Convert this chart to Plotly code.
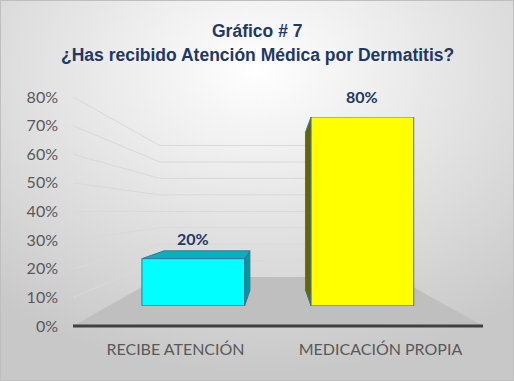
import base64
import plotly.graph_objects as go

# ---------------- data ----------------
categories = ["RECIBE ATENCIÓN", "MEDICACIÓN PROPIA"]
values = [20, 80]
value_labels = ["20%", "80%"]
tick_values = [0, 10, 20, 30, 40, 50, 60, 70, 80]
tick_labels = [f"{v}%" for v in tick_values]

# ---------------- style ----------------
bar_colors = ["#00FFFF", "#FFFF00"]
side_colors = ["#0097A0", "#666600"]
top_colors = ["#00B4BC", "#B3B300"]
outline = "#41719C"
navy = "#1F3864"
gray_text = "#595959"

W, H = 514, 381
VPX, VPY = 277.0, 211.0          # vanishing point (pixels)
FX0, FX1, FY0 = 73.0, 483.0, 326.0  # front plane extent (pixels)
FY_TOP = 97.0
VMAX = 80
K = (FY0 - FY_TOP) / VMAX
S_WALL = 0.574
S_BAR_FRONT = 0.825
S_BAR_BACK = 0.69
BAR_WIDTH = 0.607

n = len(categories)
unit_px = (FX1 - FX0) / n


def X_of(i):
    return FX0 + (i + 0.5) * unit_px


def proj(X, v, s):
    return VPX + s * (X - VPX), VPY + s * (FY0 - K * v - VPY)


fig = go.Figure()

# floor
floor_pts = [proj(FX0, 0, 1), proj(FX1, 0, 1), proj(FX1, 0, S_WALL), proj(FX0, 0, S_WALL)]
fig.add_trace(go.Scatter(
    x=[p[0] for p in floor_pts] + [floor_pts[0][0]],
    y=[p[1] for p in floor_pts] + [floor_pts[0][1]],
    fill="toself", fillcolor="#BFBFBF", line=dict(width=0), mode="lines",
    hoverinfo="skip", showlegend=False, xaxis="x", yaxis="y"))

# gridlines (left wall + back wall)
gx, gy = [], []
for v in tick_values:
    if v == 0:
        continue
    pts = [proj(FX0, v, 1), proj(FX0, v, S_WALL), proj(FX1, v, S_WALL)]
    gx += [p[0] for p in pts] + [None]
    gy += [p[1] for p in pts] + [None]
fig.add_trace(go.Scatter(x=gx, y=gy, mode="lines", line=dict(color="#D9D9D9", width=1),
                         hoverinfo="skip", showlegend=False, xaxis="x", yaxis="y"))

# front floor edge (axis line)
a, b = proj(FX0, 0, 1), proj(FX1, 0, 1)
fig.add_trace(go.Scatter(x=[a[0], b[0]], y=[a[1], b[1]], mode="lines",
                         line=dict(color="#404040", width=3),
                         hoverinfo="skip", showlegend=False, xaxis="x", yaxis="y"))

# 3D side / top faces of bars
half = BAR_WIDTH * unit_px / 2
for i, v in enumerate(values):
    Xl, Xr = X_of(i) - half, X_of(i) + half
    faces = []
    if Xr < VPX:
        faces.append(([proj(Xr, 0, S_BAR_FRONT), proj(Xr, v, S_BAR_FRONT),
                       proj(Xr, v, S_BAR_BACK), proj(Xr, 0, S_BAR_BACK)], side_colors[i]))
    if Xl > VPX:
        faces.append(([proj(Xl, 0, S_BAR_FRONT), proj(Xl, v, S_BAR_FRONT),
                       proj(Xl, v, S_BAR_BACK), proj(Xl, 0, S_BAR_BACK)], side_colors[i]))
    if FY0 - K * v > VPY:
        faces.append(([proj(Xl, v, S_BAR_FRONT), proj(Xr, v, S_BAR_FRONT),
                       proj(Xr, v, S_BAR_BACK), proj(Xl, v, S_BAR_BACK)], top_colors[i]))
    for pts, col in faces:
        fig.add_trace(go.Scatter(
            x=[p[0] for p in pts] + [pts[0][0]], y=[p[1] for p in pts] + [pts[0][1]],
            fill="toself", fillcolor=col, mode="lines", line=dict(color=outline, width=1),
            hoverinfo="skip", showlegend=False, xaxis="x", yaxis="y"))

# bar front faces
fig.add_trace(go.Bar(x=categories, y=values, width=BAR_WIDTH,
                     marker=dict(color=bar_colors, line=dict(color=outline, width=1)),
                     hoverinfo="skip", showlegend=False, xaxis="x2", yaxis="y2"))

# invisible trace for the front axis system
fig.add_trace(go.Scatter(x=categories, y=[0, 0], mode="markers", marker=dict(opacity=0),
                         hoverinfo="skip", showlegend=False, xaxis="x3", yaxis="y3"))

# data labels
for c, v, t in zip(categories, values, value_labels):
    fig.add_annotation(x=c, y=v, xref="x2", yref="y2", text=f"<b>{t}</b>", showarrow=False,
                       yshift=20, yanchor="middle",
                       font=dict(family="Lato", size=16, color=navy))

# title
fig.add_annotation(x=0.5, y=1 - 31 / H, xref="paper", yref="paper", showarrow=False,
                   text="<b>Gráfico # 7</b>", yanchor="middle", xanchor="center",
                   font=dict(family="Liberation Sans", size=17.5, color=navy))
fig.add_annotation(x=0.5, y=1 - 55 / H, xref="paper", yref="paper", showarrow=False,
                   text="<b>¿Has recibido Atención Médica por Dermatitis?</b>",
                   yanchor="middle", xanchor="center",
                   font=dict(family="Liberation Sans", size=17.5, color=navy))

# background
svg = (f'<svg xmlns="http://www.w3.org/2000/svg" width="{W}" height="{H}">'
       '<defs><radialGradient id="g" cx="50%" cy="18%" r="80%">'
       '<stop offset="0" stop-color="#FFFFFF"/><stop offset="1" stop-color="#C8C8C8"/>'
       '</radialGradient></defs>'
       '<rect width="100%" height="100%" fill="url(#g)"/>'
       f'<rect x="0.5" y="0.5" width="{W-1}" height="{H-1}" fill="none" stroke="#BFBFBF"/></svg>')
src = "data:image/svg+xml;base64," + base64.b64encode(svg.encode()).decode()

bf0 = proj(FX0, 0, S_BAR_FRONT)
bf1 = proj(FX1, VMAX, S_BAR_FRONT)

fig.update_layout(
    template="none",
    width=W, height=H, margin=dict(l=0, r=0, t=0, b=0, pad=0), autosize=False,
    paper_bgcolor="#E6E6E6", plot_bgcolor="rgba(0,0,0,0)",
    images=[dict(source=src, xref="paper", yref="paper", x=0, y=1, sizex=1, sizey=1,
                 xanchor="left", yanchor="top", sizing="stretch", layer="below")],
    xaxis=dict(range=[0, W], domain=[0, 1], visible=False, fixedrange=True, automargin=False),
    yaxis=dict(range=[H, 0], domain=[0, 1], visible=False, fixedrange=True, automargin=False),
    xaxis2=dict(type="category", range=[-0.5, n - 0.5], domain=[bf0[0] / W, bf1[0] / W],
                visible=False, anchor="y2", fixedrange=True, automargin=False),
    yaxis2=dict(range=[0, VMAX], domain=[1 - bf0[1] / H, 1 - bf1[1] / H],
                visible=False, anchor="x2", fixedrange=True, automargin=False),
    xaxis3=dict(type="category", range=[-0.5, n - 0.5], domain=[FX0 / W, FX1 / W],
                anchor="y3", showgrid=False, zeroline=False, showline=False, ticks="",
                ticklabelstandoff=12, automargin=False,
                tickfont=dict(family="Lato", size=16, color=gray_text), fixedrange=True),
    yaxis3=dict(range=[0, VMAX], domain=[1 - FY0 / H, 1 - FY_TOP / H], anchor="x3",
                tickvals=tick_values, ticktext=tick_labels, showgrid=False, zeroline=False,
                showline=False, ticks="", ticklabelstandoff=14, automargin=False,
                tickfont=dict(family="Lato", size=16, color=gray_text), fixedrange=True),
)

fig.write_html("out.html", config={"displayModeBar": False},
               post_script="document.body.style.margin='0px';document.body.style.overflow='hidden';")
